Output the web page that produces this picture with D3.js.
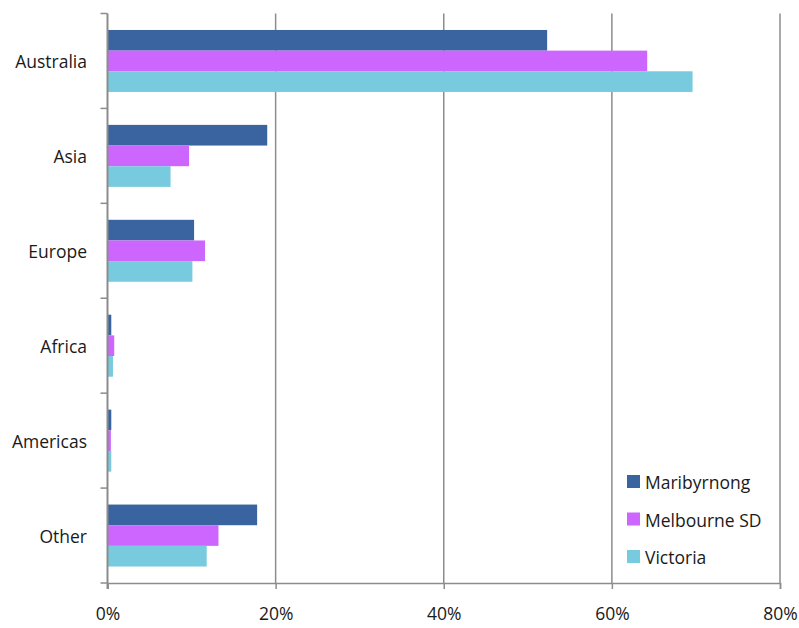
<!DOCTYPE html>
<html>
<head>
<meta charset="utf-8">
<script src="https://cdn.jsdelivr.net/npm/d3@7/dist/d3.min.js"></script>
<style>
  html, body { margin: 0; padding: 0; background: #fff; }
  svg text { font-family: "Open Sans", "Liberation Sans", sans-serif; fill: #1a1a1a; }
</style>
</head>
<body>
<svg id="chart" width="799" height="628"></svg>
<script>
// Birthplace share by region (percent of residents)
const categories = ["Australia", "Asia", "Europe", "Africa", "Americas", "Other"];
const seriesNames = ["Maribyrnong", "Melbourne SD", "Victoria"];
const maribyrnong = [52.3, 19.0, 10.3, 0.45, 0.45, 17.8];
const melbourneSD = [64.2, 9.7, 11.6, 0.8, 0.4, 13.2];
const victoria   = [69.6, 7.5, 10.1, 0.65, 0.45, 11.8];
const xTicks = [0, 20, 40, 60, 80];
const colors = ["#3a64a0", "#cc66ff", "#78cadf"];

const seriesValues = [maribyrnong, melbourneSD, victoria];

const svg = d3.select("#chart");
const margin = { left: 107.5, right: 19, top: 13.5, bottom: 45 };
const W = 799, H = 628;
const fontSize = 17.5;

const x = d3.scaleLinear().domain([0, 80]).range([margin.left, W - margin.right]);
const y = d3.scaleBand().domain(categories).range([margin.top, H - margin.bottom]).paddingInner(0.347).paddingOuter(0.1735);
const ySub = d3.scaleBand().domain(seriesNames).range([0, y.bandwidth()]);

const gridColor = "#8c8c8c";

// vertical gridlines
svg.append("g").selectAll("line")
  .data(xTicks.filter(d => d > 0))
  .join("line")
  .attr("x1", d => x(d)).attr("x2", d => x(d))
  .attr("y1", margin.top).attr("y2", H - margin.bottom)
  .attr("stroke", gridColor).attr("stroke-width", 1.5);

// bars
const groups = svg.append("g").selectAll("g")
  .data(categories)
  .join("g")
  .attr("transform", c => `translate(0,${y(c)})`);

groups.selectAll("rect")
  .data((c, i) => seriesNames.map((s, j) => ({ s, v: seriesValues[j][i], j })))
  .join("rect")
  .attr("x", x(0))
  .attr("y", d => ySub(d.s))
  .attr("width", d => x(d.v) - x(0))
  .attr("height", ySub.bandwidth())
  .attr("fill", d => colors[d.j]);

// x axis
const xAxis = svg.append("g")
  .attr("transform", `translate(0,${H - margin.bottom})`)
  .call(d3.axisBottom(x).tickValues(xTicks).tickFormat(d => d + "%").tickSize(6).tickPadding(19));
xAxis.select(".domain").attr("stroke", gridColor).attr("stroke-width", 1.5);
xAxis.selectAll(".tick line").attr("stroke", gridColor).attr("stroke-width", 1.5);
xAxis.selectAll("text").attr("font-size", fontSize).style("fill", "#1a1a1a");

// y axis with ticks at category boundaries
const boundaries = d3.range(categories.length + 1).map(i => margin.top + i * y.step());
const yAxisG = svg.append("g");
yAxisG.append("line")
  .attr("x1", x(0)).attr("x2", x(0))
  .attr("y1", margin.top).attr("y2", H - margin.bottom + 6)
  .attr("stroke", gridColor).attr("stroke-width", 2);
yAxisG.selectAll("line.tick")
  .data(boundaries)
  .join("line")
  .attr("class", "tick")
  .attr("x1", x(0) - 7).attr("x2", x(0))
  .attr("y1", d => d).attr("y2", d => d)
  .attr("stroke", gridColor).attr("stroke-width", 1.5);
yAxisG.selectAll("text")
  .data(categories)
  .join("text")
  .attr("x", 87)
  .attr("y", c => y(c) + y.bandwidth() / 2 + 1)
  .attr("dy", "0.35em")
  .attr("text-anchor", "end")
  .attr("font-size", fontSize)
  .text(c => c);

// legend
const legend = svg.append("g").attr("transform", "translate(627,482)");
const li = legend.selectAll("g").data(seriesNames).join("g")
  .attr("transform", (d, i) => `translate(0,${i * 37.5})`);
li.append("rect").attr("x", 0).attr("y", -7).attr("width", 13).attr("height", 13)
  .attr("fill", (d, i) => colors[i]);
li.append("text").attr("x", 18).attr("y", 1).attr("dy", "0.35em")
  .attr("font-size", fontSize).text(d => d);
</script>
</body>
</html>
